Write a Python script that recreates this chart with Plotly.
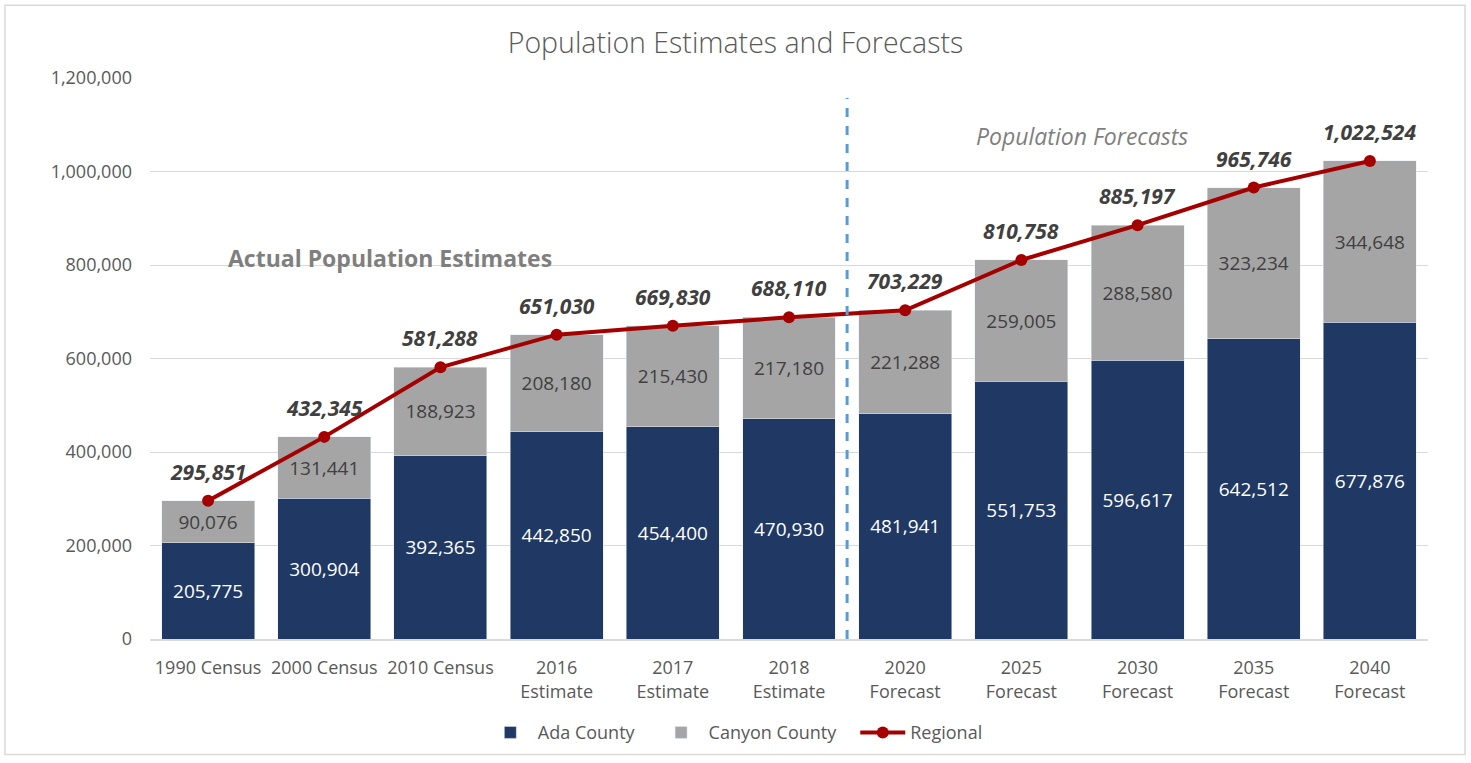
import plotly.graph_objects as go

categories = ["1990 Census", "2000 Census", "2010 Census", "2016<br>Estimate", "2017<br>Estimate",
              "2018<br>Estimate", "2020<br>Forecast", "2025<br>Forecast", "2030<br>Forecast",
              "2035<br>Forecast", "2040<br>Forecast"]
ada = [205775, 300904, 392365, 442850, 454400, 470930, 481941, 551753, 596617, 642512, 677876]
canyon = [90076, 131441, 188923, 208180, 215430, 217180, 221288, 259005, 288580, 323234, 344648]
regional = [295851, 432345, 581288, 651030, 669830, 688110, 703229, 810758, 885197, 965746, 1022524]
y_ticks = [0, 200000, 400000, 600000, 800000, 1000000, 1200000]

FONT = "Open Sans"
NAVY = "#203864"
GRAY = "#A5A5A5"
RED = "#A50000"
PAD = "\u00a0\u00a0\u00a0"

fig = go.Figure()
fig.add_trace(go.Bar(
    x=categories, y=ada, name="Ada County" + PAD, marker_color=NAVY,
    text=[f"{v:,}" for v in ada], textposition="inside", insidetextanchor="middle",
    textangle=0, textfont=dict(color="white", size=19, family=FONT),
))
fig.add_trace(go.Bar(
    x=categories, y=canyon, name="Canyon County" + PAD, marker_color=GRAY,
    text=[f"{v:,}" for v in canyon], textposition="inside", insidetextanchor="middle",
    textangle=0, textfont=dict(color="#404040", size=19, family=FONT),
))
fig.add_trace(go.Scatter(
    x=categories, y=regional, name="Regional", mode="lines+markers",
    line=dict(color=RED, width=4), marker=dict(color=RED, size=12),
))

annotations = []
for c, v in zip(categories, regional):
    annotations.append(dict(
        x=c, y=v, xref="x", yref="y", text=f"<b><i>{v:,}</i></b>", showarrow=False,
        yshift=29, font=dict(size=21, color="#404040", family=FONT),
    ))
annotations.append(dict(
    x=0.1878, y=0.680, xref="paper", yref="paper", xanchor="center", yanchor="middle",
    text="<b>Actual Population Estimates</b>",
    showarrow=False, font=dict(size=23, color="#7F7F7F", family=FONT),
))
annotations.append(dict(
    x=0.729, y=0.897, xref="paper", yref="paper", xanchor="center", yanchor="middle",
    text="<i>Population Forecasts</i>",
    showarrow=False, font=dict(size=23, color="#7F7F7F", family=FONT),
))

fig.update_layout(
    width=1471, height=763,
    margin=dict(l=150, r=43, t=78, b=122),
    paper_bgcolor="white", plot_bgcolor="white",
    barmode="stack", bargap=0.2,
    font=dict(family=FONT, color="#595959", size=18),
    title=dict(text="Population Estimates and Forecasts", x=0.5, xref="container",
               y=1 - 43 / 763, yref="container", yanchor="middle",
               font=dict(size=28.5, color="#595959", family=FONT, weight=300)),
    legend=dict(orientation="h", x=0.458, xanchor="center",
                y=-0.167, yanchor="middle",
                font=dict(size=18, color="#595959", family=FONT), traceorder="normal",
                itemwidth=45),
    annotations=annotations,
    shapes=[
        dict(type="line", xref="x", yref="y", x0=5.5, x1=5.5, y0=0, y1=1157000,
             line=dict(color="#5B9BD5", width=3, dash="dash")),
        dict(type="rect", xref="paper", yref="paper", x0=-0.1135, x1=1.029, y0=-0.206, y1=1.1297,
             line=dict(color="#D9D9D9", width=1.5), layer="below"),
    ],
)
fig.update_xaxes(range=[-0.5, 10.5], showgrid=False, showline=True, linecolor="#D9D9D9",
                 linewidth=1.5, tickfont=dict(size=18, color="#595959"), ticks="",
                 ticklabelstandoff=12)
fig.update_yaxes(range=[0, 1200000], tickvals=y_ticks, tickformat=",", showgrid=True,
                 gridcolor="#D9D9D9", gridwidth=1, zeroline=False, showline=False,
                 tickfont=dict(size=18, color="#595959"), ticks="", ticklabelstandoff=17)

fig.write_html("out.html", config={"displayModeBar": False},
               post_script="document.body.style.margin='0';")
